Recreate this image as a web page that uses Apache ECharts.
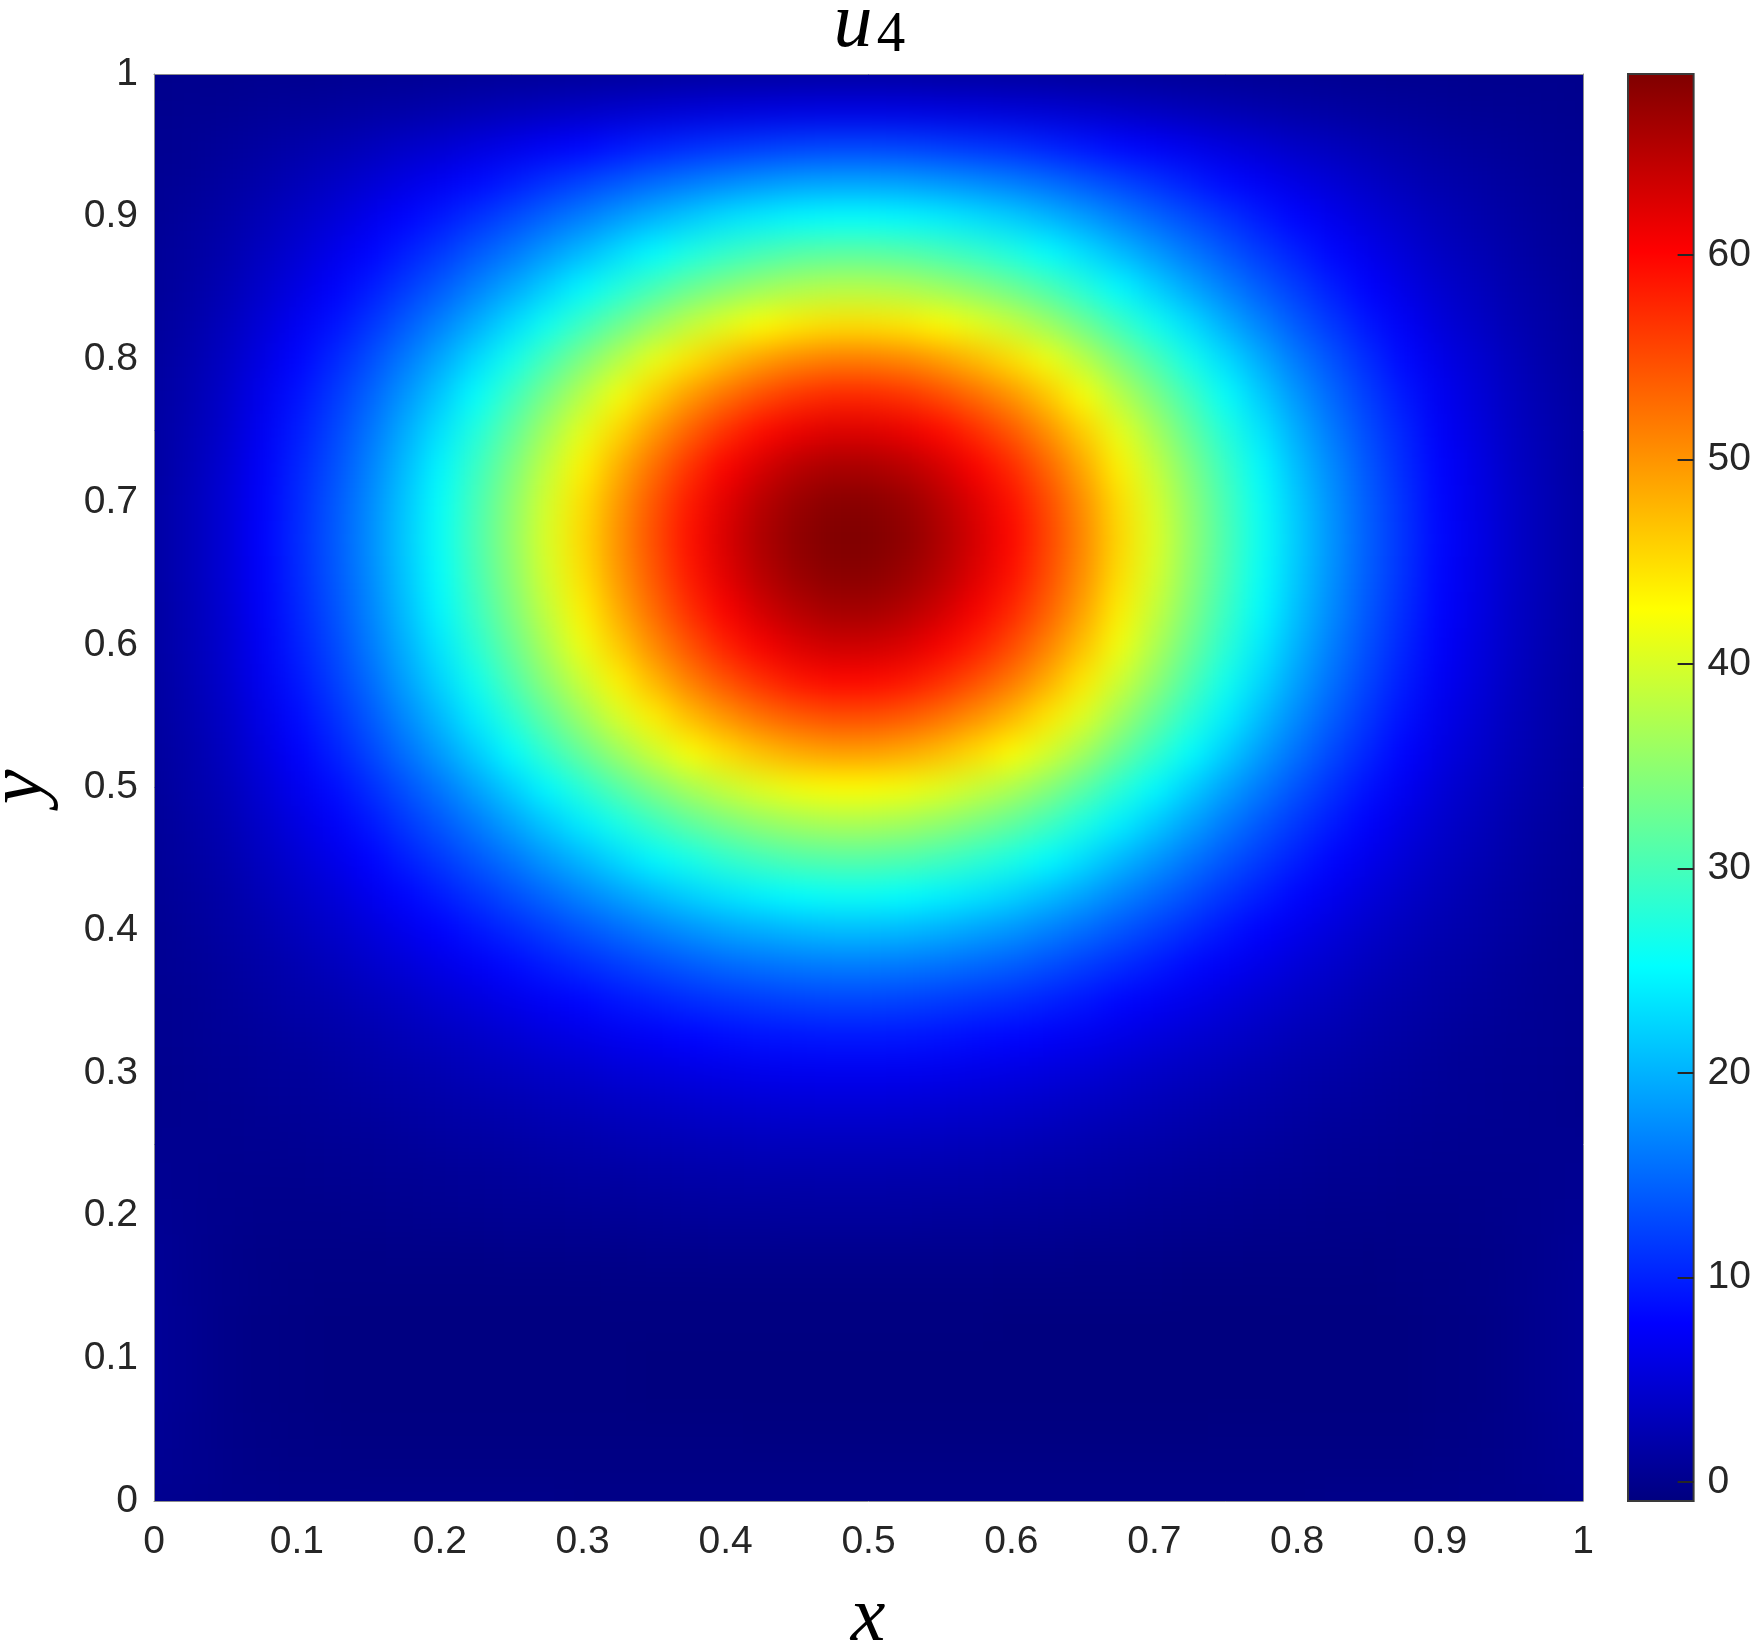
<!DOCTYPE html>
<html>
<head>
<meta charset="utf-8">
<script src="https://cdn.jsdelivr.net/npm/echarts@6/dist/echarts.min.js"></script>
<style>
  html, body { margin: 0; padding: 0; background: #fff; }
  #chart { width: 1754px; height: 1643px; }
</style>
</head>
<body>
<div id="chart"></div>
<script>
// cell centres (x, y) of the sampled field
const xGrid = [0,0.025,0.05,0.075,0.1,0.125,0.15,0.175,0.2,0.225,0.25,0.275,0.3,0.325,0.35,0.375,0.4,0.425,0.45,0.475,0.5,0.525,0.55,0.575,0.6,0.625,0.65,0.675,0.7,0.725,0.75,0.775,0.8,0.825,0.85,0.875,0.9,0.925,0.95,0.975,1];
const yGrid = [0,0.025,0.05,0.075,0.1,0.125,0.15,0.175,0.2,0.225,0.25,0.275,0.3,0.325,0.35,0.375,0.4,0.425,0.45,0.475,0.5,0.525,0.55,0.575,0.6,0.625,0.65,0.675,0.7,0.725,0.75,0.775,0.8,0.825,0.85,0.875,0.9,0.925,0.95,0.975,1];

// u4 values, one row per y (bottom row first)
const uRows = [
  [0.2,0.1,-0.1,-0.1,-0.2,-0.2,-0.2,-0.2,-0.2,-0.2,-0.2,-0.2,-0.3,-0.3,-0.3,-0.3,-0.3,-0.3,-0.3,-0.3,-0.3,-0.3,-0.3,-0.3,-0.3,-0.3,-0.3,-0.3,-0.3,-0.3,-0.3,-0.3,-0.3,-0.2,-0.2,-0.2,-0.2,-0.1,-0.1,0.1,0.2],
  [0.4,0.2,-0.1,-0.3,-0.4,-0.4,-0.5,-0.5,-0.5,-0.5,-0.5,-0.5,-0.5,-0.5,-0.5,-0.5,-0.5,-0.5,-0.5,-0.5,-0.5,-0.5,-0.5,-0.5,-0.5,-0.5,-0.5,-0.5,-0.5,-0.5,-0.5,-0.5,-0.5,-0.5,-0.5,-0.5,-0.4,-0.3,-0.1,0.2,0.4],
  [0.6,0.2,-0.2,-0.4,-0.5,-0.6,-0.7,-0.7,-0.7,-0.7,-0.7,-0.7,-0.7,-0.7,-0.7,-0.7,-0.7,-0.8,-0.8,-0.8,-0.8,-0.8,-0.8,-0.8,-0.8,-0.8,-0.8,-0.8,-0.8,-0.8,-0.7,-0.7,-0.7,-0.7,-0.7,-0.7,-0.5,-0.4,-0.2,0.2,0.6],
  [0.7,0.3,-0.2,-0.5,-0.6,-0.7,-0.8,-0.8,-0.8,-0.8,-0.8,-0.8,-0.8,-0.8,-0.9,-0.9,-0.9,-0.9,-0.9,-0.9,-0.9,-0.9,-0.9,-0.9,-0.9,-0.9,-0.9,-0.9,-0.9,-0.9,-0.9,-0.9,-0.8,-0.8,-0.8,-0.8,-0.6,-0.5,-0.2,0.3,0.7],
  [0.7,0.3,-0.2,-0.5,-0.6,-0.7,-0.8,-0.8,-0.8,-0.8,-0.8,-0.8,-0.8,-0.8,-0.9,-0.9,-0.9,-0.9,-0.9,-0.9,-0.9,-0.9,-0.9,-0.9,-0.9,-0.9,-0.9,-0.9,-0.9,-0.9,-0.9,-0.9,-0.8,-0.8,-0.8,-0.8,-0.6,-0.5,-0.2,0.3,0.7],
  [0.7,0.3,-0.2,-0.5,-0.6,-0.7,-0.8,-0.8,-0.8,-0.8,-0.8,-0.8,-0.8,-0.8,-0.8,-0.8,-0.8,-0.8,-0.8,-0.8,-0.8,-0.8,-0.8,-0.8,-0.9,-0.9,-0.9,-0.9,-0.9,-0.9,-0.9,-0.9,-0.8,-0.8,-0.8,-0.8,-0.6,-0.5,-0.2,0.3,0.7],
  [0.7,0.2,-0.1,-0.4,-0.5,-0.6,-0.6,-0.6,-0.6,-0.6,-0.6,-0.6,-0.6,-0.5,-0.5,-0.5,-0.5,-0.5,-0.5,-0.5,-0.5,-0.5,-0.5,-0.5,-0.6,-0.6,-0.6,-0.6,-0.6,-0.7,-0.7,-0.7,-0.7,-0.7,-0.7,-0.6,-0.5,-0.4,-0.1,0.3,0.7],
  [0.6,0.2,-0.1,-0.3,-0.4,-0.4,-0.4,-0.3,-0.3,-0.3,-0.2,-0.2,-0.1,-0.1,0.0,0.0,0.1,0.1,0.1,0.1,0.1,0.1,0.1,0.1,0.0,0.0,-0.1,-0.1,-0.2,-0.3,-0.3,-0.4,-0.4,-0.4,-0.5,-0.4,-0.4,-0.3,-0.1,0.2,0.6],
  [0.4,0.2,0.0,-0.1,-0.1,-0.1,0.0,0.1,0.2,0.3,0.4,0.5,0.6,0.7,0.8,0.9,1.0,1.0,1.1,1.1,1.1,1.1,1.0,1.0,0.9,0.8,0.7,0.6,0.4,0.3,0.2,0.1,0.0,-0.1,-0.1,-0.2,-0.2,-0.1,0.0,0.2,0.4],
  [0.3,0.2,0.1,0.1,0.1,0.2,0.3,0.5,0.6,0.8,0.9,1.1,1.3,1.4,1.6,1.8,1.9,2.0,2.0,2.1,2.1,2.0,2.0,1.9,1.8,1.6,1.5,1.3,1.1,0.9,0.8,0.6,0.5,0.3,0.2,0.1,0.1,0.1,0.1,0.2,0.3],
  [0.2,0.2,0.2,0.3,0.4,0.6,0.7,0.9,1.2,1.4,1.6,1.9,2.1,2.4,2.6,2.8,3.0,3.2,3.3,3.3,3.3,3.3,3.2,3.0,2.9,2.6,2.4,2.1,1.9,1.6,1.4,1.2,0.9,0.7,0.6,0.4,0.3,0.2,0.2,0.2,0.2],
  [0.1,0.2,0.3,0.5,0.7,1.0,1.2,1.5,1.8,2.1,2.4,2.8,3.1,3.5,3.8,4.1,4.4,4.6,4.7,4.8,4.8,4.7,4.6,4.4,4.2,3.9,3.5,3.2,2.8,2.5,2.1,1.8,1.5,1.2,1.0,0.8,0.6,0.4,0.3,0.2,0.1],
  [0.1,0.3,0.5,0.8,1.0,1.3,1.7,2.1,2.5,3.0,3.4,3.9,4.4,4.9,5.3,5.8,6.1,6.4,6.6,6.7,6.7,6.6,6.4,6.1,5.8,5.4,4.9,4.4,3.9,3.4,3.0,2.5,2.1,1.7,1.4,1.1,0.8,0.6,0.4,0.3,0.1],
  [0.2,0.4,0.7,1.0,1.4,1.8,2.3,2.9,3.4,4.0,4.7,5.4,6.0,6.7,7.3,7.9,8.4,8.8,9.0,9.2,9.2,9.1,8.8,8.4,8.0,7.4,6.8,6.1,5.4,4.7,4.1,3.5,2.9,2.4,1.9,1.5,1.1,0.8,0.6,0.4,0.2],
  [0.3,0.5,0.9,1.4,1.9,2.4,3.1,3.8,4.6,5.4,6.3,7.2,8.1,9.0,9.8,10.6,11.2,11.7,12.1,12.3,12.3,12.1,11.7,11.2,10.7,9.9,9.1,8.1,7.2,6.3,5.4,4.6,3.9,3.2,2.5,2.0,1.5,1.1,0.8,0.5,0.3],
  [0.4,0.7,1.2,1.8,2.5,3.2,4.1,5.1,6.0,7.1,8.3,9.5,10.6,11.8,12.9,13.9,14.8,15.4,15.9,16.2,16.2,15.9,15.5,14.8,14.1,13.1,11.9,10.7,9.5,8.3,7.1,6.1,5.1,4.2,3.3,2.6,1.9,1.5,1.0,0.6,0.4],
  [0.4,0.9,1.5,2.3,3.2,4.1,5.2,6.4,7.7,9.1,10.5,12.0,13.5,15.0,16.4,17.7,18.8,19.6,20.2,20.6,20.6,20.3,19.7,18.8,17.9,16.6,15.2,13.6,12.1,10.6,9.1,7.7,6.5,5.3,4.2,3.3,2.5,1.9,1.3,0.8,0.4],
  [0.6,1.1,1.8,2.9,4.0,5.1,6.5,8.0,9.6,11.3,13.1,15.0,16.9,18.7,20.5,22.1,23.4,24.5,25.3,25.7,25.7,25.3,24.5,23.5,22.3,20.7,19.0,16.9,15.1,13.2,11.3,9.7,8.1,6.6,5.3,4.1,3.1,2.3,1.6,1.0,0.6],
  [0.7,1.4,2.2,3.5,4.8,6.2,7.8,9.7,11.6,13.7,15.8,18.2,20.4,22.7,24.8,26.7,28.4,29.7,30.6,31.1,31.1,30.6,29.7,28.4,27.0,25.1,22.9,20.5,18.2,15.9,13.7,11.7,9.8,8.0,6.4,5.0,3.7,2.8,1.9,1.2,0.7],
  [0.8,1.6,2.6,4.1,5.7,7.3,9.2,11.5,13.7,16.2,18.8,21.5,24.1,26.8,29.3,31.6,33.5,35.1,36.2,36.8,36.8,36.2,35.1,33.7,31.9,29.7,27.1,24.3,21.6,18.9,16.2,13.8,11.5,9.5,7.6,5.9,4.4,3.3,2.2,1.4,0.8],
  [0.9,1.9,3.0,4.8,6.6,8.5,10.7,13.3,15.9,18.8,21.8,24.9,28.0,31.1,34.0,36.7,38.9,40.7,42.0,42.6,42.6,42.0,40.8,39.0,37.1,34.5,31.5,28.1,25.0,21.9,18.8,16.1,13.4,11.0,8.8,6.9,5.1,3.8,2.6,1.7,0.9],
  [1.1,2.1,3.5,5.5,7.6,9.8,12.4,15.4,18.4,21.7,25.1,28.8,32.3,35.9,39.3,42.4,44.9,47.0,48.4,49.2,49.2,48.5,47.1,45.1,42.8,39.8,36.4,32.5,28.9,25.3,21.8,18.5,15.5,12.7,10.2,7.9,5.9,4.4,3.0,1.9,1.1],
  [1.2,2.4,3.9,6.1,8.4,10.9,13.8,17.1,20.5,24.1,28.0,32.0,36.0,40.0,43.7,47.2,50.0,52.4,53.9,54.8,54.8,54.0,52.4,50.2,47.6,44.3,40.5,36.2,32.2,28.1,24.2,20.6,17.2,14.2,11.3,8.8,6.5,4.9,3.3,2.2,1.2],
  [1.3,2.6,4.3,6.7,9.2,11.9,15.0,18.7,22.3,26.3,30.5,34.9,39.2,43.6,47.6,51.4,54.5,57.0,58.8,59.7,59.7,58.8,57.1,54.7,51.9,48.3,44.1,39.4,35.1,30.6,26.4,22.5,18.7,15.4,12.3,9.6,7.1,5.4,3.6,2.3,1.3],
  [1.4,2.8,4.5,7.1,9.8,12.6,16.0,19.8,23.7,28.0,32.4,37.1,41.7,46.3,50.7,54.6,58.0,60.6,62.5,63.5,63.5,62.6,60.7,58.2,55.2,51.3,46.9,41.9,37.3,32.6,28.1,23.9,19.9,16.4,13.1,10.2,7.6,5.7,3.9,2.5,1.4],
  [1.4,2.9,4.7,7.4,10.2,13.2,16.7,20.7,24.8,29.2,33.8,38.7,43.6,48.4,52.9,57.1,60.5,63.3,65.2,66.3,66.3,65.3,63.4,60.7,57.6,53.6,49.0,43.8,38.9,34.0,29.3,25.0,20.8,17.2,13.7,10.7,7.9,6.0,4.0,2.6,1.4],
  [1.5,3.0,4.9,7.6,10.5,13.6,17.1,21.3,25.4,30.0,34.7,39.8,44.7,49.7,54.3,58.6,62.2,65.0,67.0,68.1,68.1,67.1,65.1,62.4,59.2,55.0,50.3,44.9,40.0,34.9,30.1,25.6,21.4,17.6,14.1,11.0,8.1,6.1,4.2,2.7,1.5],
  [1.5,3.0,4.9,7.7,10.6,13.7,17.3,21.5,25.7,30.3,35.1,40.2,45.2,50.2,54.9,59.2,62.8,65.7,67.7,68.8,68.8,67.8,65.8,63.0,59.8,55.6,50.8,45.4,40.4,35.3,30.4,25.9,21.6,17.8,14.2,11.1,8.2,6.2,4.2,2.7,1.5],
  [1.5,3.0,4.9,7.6,10.5,13.6,17.1,21.3,25.5,30.0,34.8,39.8,44.8,49.7,54.4,58.6,62.2,65.1,67.1,68.2,68.2,67.2,65.2,62.4,59.2,55.1,50.3,45.0,40.0,35.0,30.1,25.7,21.4,17.6,14.1,11.0,8.1,6.1,4.2,2.7,1.5],
  [1.4,2.9,4.7,7.4,10.2,13.1,16.6,20.6,24.7,29.1,33.7,38.6,43.4,48.2,52.7,56.8,60.3,63.0,65.0,66.0,66.0,65.0,63.1,60.4,57.4,53.3,48.7,43.6,38.8,33.9,29.2,24.9,20.7,17.1,13.6,10.6,7.9,6.0,4.0,2.6,1.4],
  [1.4,2.7,4.4,7.0,9.6,12.4,15.7,19.5,23.3,27.5,31.8,36.5,41.0,45.5,49.8,53.7,57.0,59.6,61.4,62.4,62.4,61.5,59.7,57.2,54.2,50.4,46.1,41.2,36.7,32.0,27.6,23.5,19.6,16.1,12.9,10.1,7.4,5.6,3.8,2.5,1.4],
  [1.3,2.5,4.1,6.5,8.9,11.5,14.5,18.0,21.5,25.4,29.4,33.7,37.9,42.0,46.0,49.6,52.6,55.0,56.7,57.6,57.6,56.8,55.1,52.8,50.1,46.6,42.5,38.0,33.8,29.6,25.5,21.7,18.1,14.9,11.9,9.3,6.9,5.2,3.5,2.3,1.3],
  [1.1,2.3,3.7,5.8,8.0,10.3,13.0,16.2,19.3,22.8,26.4,30.2,34.0,37.7,41.3,44.5,47.2,49.4,50.9,51.7,51.7,51.0,49.5,47.4,45.0,41.8,38.2,34.1,30.4,26.5,22.9,19.5,16.2,13.4,10.7,8.3,6.2,4.7,3.2,2.0,1.1],
  [1.0,1.9,3.2,5.0,6.9,8.9,11.2,14.0,16.7,19.7,22.8,26.1,29.4,32.6,35.7,38.5,40.8,42.7,44.0,44.7,44.7,44.1,42.8,41.0,38.9,36.2,33.0,29.5,26.3,23.0,19.8,16.8,14.0,11.6,9.2,7.2,5.3,4.0,2.7,1.8,1.0],
  [0.8,1.6,2.7,4.2,5.8,7.5,9.5,11.8,14.1,16.7,19.3,22.1,24.9,27.6,30.2,32.6,34.5,36.1,37.2,37.8,37.8,37.3,36.2,34.7,32.9,30.6,27.9,25.0,22.2,19.4,16.7,14.2,11.9,9.8,7.8,6.1,4.5,3.4,2.3,1.5,0.8],
  [0.7,1.4,2.2,3.5,4.8,6.3,7.9,9.8,11.7,13.9,16.0,18.4,20.7,23.0,25.1,27.1,28.7,30.0,31.0,31.5,31.5,31.0,30.1,28.8,27.3,25.4,23.2,20.8,18.5,16.1,13.9,11.8,9.9,8.1,6.5,5.1,3.7,2.8,1.9,1.2,0.7],
  [0.6,1.1,1.8,2.8,3.9,5.0,6.4,7.9,9.4,11.1,12.9,14.8,16.6,18.4,20.2,21.7,23.1,24.1,24.9,25.3,25.3,24.9,24.2,23.1,22.0,20.4,18.7,16.7,14.8,13.0,11.2,9.5,7.9,6.5,5.2,4.1,3.0,2.3,1.5,1.0,0.6],
  [0.4,0.8,1.3,2.1,2.9,3.8,4.7,5.9,7.0,8.3,9.6,11.0,12.4,13.8,15.1,16.2,17.2,18.0,18.6,18.9,18.9,18.6,18.0,17.3,16.4,15.3,13.9,12.5,11.1,9.7,8.3,7.1,5.9,4.9,3.9,3.0,2.2,1.7,1.2,0.7,0.4],
  [0.3,0.5,0.9,1.4,1.9,2.5,3.1,3.9,4.6,5.5,6.3,7.2,8.1,9.0,9.9,10.7,11.3,11.8,12.2,12.4,12.4,12.2,11.8,11.3,10.8,10.0,9.1,8.2,7.3,6.4,5.5,4.7,3.9,3.2,2.6,2.0,1.5,1.1,0.8,0.5,0.3],
  [0.1,0.3,0.4,0.7,0.9,1.2,1.5,1.8,2.2,2.6,3.0,3.4,3.9,4.3,4.7,5.1,5.4,5.6,5.8,5.9,5.9,5.8,5.6,5.4,5.1,4.8,4.4,3.9,3.5,3.0,2.6,2.2,1.8,1.5,1.2,1.0,0.7,0.5,0.4,0.2,0.1],
  [0.0,0.1,0.1,0.2,0.2,0.3,0.4,0.5,0.6,0.7,0.8,0.9,1.0,1.1,1.2,1.3,1.4,1.4,1.5,1.5,1.5,1.5,1.4,1.4,1.3,1.2,1.1,1.0,0.9,0.8,0.7,0.6,0.5,0.4,0.3,0.2,0.2,0.1,0.1,0.1,0.0]
];

const colorbarTicks = [0, 10, 20, 30, 40, 50, 60];
const cbMin = -0.93;
const cbMax = 68.85;

const jet = ['#00007F', '#0000FF', '#007FFF', '#00FFFF', '#7FFF7F', '#FFFF00', '#FF7F00', '#FF0000', '#7F0000'];

const labelFont = '"Liberation Sans", Arial, Helvetica, sans-serif';
const mathFont = '"Liberation Serif", "Times New Roman", serif';

// layout of the plot box (pixels)
const plotBox = { left: 154, top: 74, width: 1429, height: 1427 };
const barBox = { left: 1628, top: 74, width: 68, height: 1427 };
const edgePad = 44;   // edge cells are stretched under the white frame
const smooth = 15;    // px, softens the cell steps of the field layer

const cells = [];
uRows.forEach((row, j) => {
    row.forEach((v, i) => {
        cells.push([xGrid[i], yGrid[j], v]);
    });
});

const halfX = (xGrid[1] - xGrid[0]) / 2;
const halfY = (yGrid[1] - yGrid[0]) / 2;
const xLast = xGrid[xGrid.length - 1];
const yLast = yGrid[yGrid.length - 1];

function renderCell(params, api) {
    const x = api.value(0);
    const y = api.value(1);
    const p0 = api.coord([x - halfX, y + halfY]);
    const p1 = api.coord([x + halfX, y - halfY]);
    let x0 = p0[0], y0 = p0[1], x1 = p1[0] + 1, y1 = p1[1] + 1;
    if (x === xGrid[0]) x0 -= edgePad;
    if (x === xLast) x1 += edgePad;
    if (y === yGrid[0]) y1 += edgePad;
    if (y === yLast) y0 -= edgePad;
    return {
        type: 'rect',
        shape: { x: x0, y: y0, width: x1 - x0, height: y1 - y0 },
        style: { fill: api.visual('color') }
    };
}

function renderColorbar(params, api) {
    const cs = params.coordSys;
    const top = api.coord([0, api.value(2)])[1];
    const bottom = api.coord([0, api.value(1)])[1];
    return {
        type: 'rect',
        shape: { x: cs.x, y: top, width: cs.width, height: bottom - top },
        style: {
            fill: new echarts.graphic.LinearGradient(0, 1, 0, 0,
                jet.map((c, k) => ({ offset: k / (jet.length - 1), color: c }))),
            stroke: '#3a3a3a',
            lineWidth: 2
        }
    };
}

const chart = echarts.init(document.getElementById('chart'), null, { renderer: 'canvas' });

const frameAxis = {
    type: 'value', min: 0, max: 1, interval: 0.1,
    zlevel: 2, z: 10,
    axisLine: { show: true, onZero: false, lineStyle: { color: '#8c8c8c', width: 1 } },
    axisTick: { show: false },
    splitLine: { show: false }
};

const tickLabel = {
    fontSize: 39, color: '#262626', fontFamily: labelFont,
    formatter: v => String(+v.toFixed(1))
};

// white frame round the plot box, hides the soft spill of the field layer
const W = 1754, H = 1643;
const pr = plotBox.left + plotBox.width, pb = plotBox.top + plotBox.height;
const maskRects = [
    [0, 0, plotBox.left, H],
    [0, 0, W, plotBox.top],
    [0, pb, W, H - pb],
    [pr, 0, barBox.left - pr, H],
    [barBox.left + barBox.width, 0, W - barBox.left - barBox.width, H]
].map(r => ({
    type: 'rect', zlevel: 2, z: 1, silent: true,
    shape: { x: r[0], y: r[1], width: r[2], height: r[3] },
    style: { fill: '#ffffff' }
}));

function mathText(txt, x, y, size, italic, extra) {
    return Object.assign({
        type: 'text', x: x, y: y, zlevel: 2, z: 20,
        style: {
            text: txt, font: (italic ? 'italic ' : '') + size + 'px ' + mathFont, fill: '#000',
            align: 'center', verticalAlign: 'middle', textAlign: 'center', textVerticalAlign: 'middle'
        }
    }, extra || {});
}

const option = {
    animation: false,
    backgroundColor: '#ffffff',
    grid: [
        Object.assign({}, plotBox),
        Object.assign({}, barBox)
    ],
    xAxis: [
        Object.assign({}, frameAxis, { gridIndex: 0, position: 'bottom',
            axisLabel: Object.assign({ margin: 22 }, tickLabel) }),
        Object.assign({}, frameAxis, { gridIndex: 0, position: 'top', axisLabel: { show: false } }),
        { gridIndex: 1, type: 'value', min: 0, max: 1, show: false }
    ],
    yAxis: [
        Object.assign({}, frameAxis, { gridIndex: 0, position: 'left',
            axisLabel: Object.assign({ margin: 16 }, tickLabel) }),
        Object.assign({}, frameAxis, { gridIndex: 0, position: 'right', axisLabel: { show: false } }),
        {
            gridIndex: 1, type: 'value', position: 'right',
            min: cbMin, max: cbMax,
            zlevel: 2, z: 10,
            axisLine: { show: false, onZero: false },
            splitLine: { show: false },
            axisTick: { show: true, inside: true, length: 16, customValues: colorbarTicks,
                lineStyle: { color: '#262626', width: 2 } },
            axisLabel: { margin: 14, fontSize: 39, color: '#262626', fontFamily: labelFont,
                customValues: colorbarTicks }
        }
    ],
    visualMap: {
        type: 'continuous',
        show: false,
        seriesIndex: 0,
        dimension: 2,
        min: cbMin,
        max: cbMax,
        inRange: { color: jet }
    },
    series: [
        {
            type: 'custom',
            xAxisIndex: 0,
            yAxisIndex: 0,
            renderItem: renderCell,
            data: cells,
            encode: { x: 0, y: 1 },
            clip: false,
            zlevel: 1
        },
        {
            type: 'custom',
            xAxisIndex: 2,
            yAxisIndex: 2,
            renderItem: renderColorbar,
            data: [[0.5, cbMin, cbMax]],
            encode: { x: 0, y: [1, 2] },
            zlevel: 2,
            z: 5
        }
    ],
    graphic: maskRects.concat([
        mathText('u', 853, 25, 78, true),
        mathText('4', 891, 36, 57, false),
        mathText('x', 868, 1619, 78, true),
        mathText('y', 20, 787, 78, true, { rotation: Math.PI / 2 })
    ])
};

chart.setOption(option);

// soften the field layer (its own canvas, zlevel 1)
const fieldLayer = chart.getDom().querySelector('canvas[data-zr-dom-id="zr_1"]');
if (fieldLayer) fieldLayer.style.filter = 'blur(' + smooth + 'px)';
</script>
</body>
</html>
